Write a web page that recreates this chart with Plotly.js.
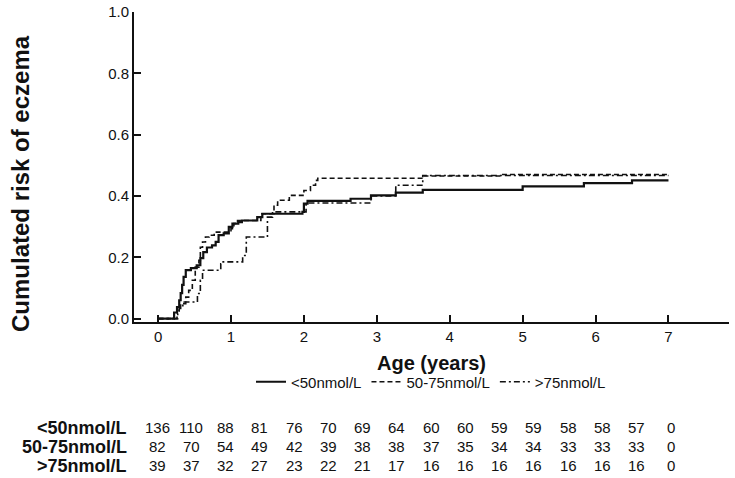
<!DOCTYPE html>
<html>
<head>
<meta charset="utf-8">
<script src="https://cdn.plot.ly/plotly-3.0.1.min.js"></script>
<style>html,body{margin:0;padding:0;background:#fff;}#chart{width:735px;height:478px;}</style>
</head>
<body>
<div id="chart"></div>
<script>
// ---- data ----
var groupNames = ["<50nmol/L", "50-75nmol/L", ">75nmol/L"];

var tLow  = [0, 0.21, 0.22, 0.26, 0.29, 0.31, 0.33, 0.35, 0.38, 0.45, 0.53, 0.58, 0.62, 0.67, 0.74, 0.79, 0.83, 0.90, 0.97, 1.02, 1.10, 1.15, 1.36, 1.43, 1.98, 2.00, 2.05, 2.64, 2.92, 3.26, 3.63, 5.00, 5.84, 6.50, 7.00];
var rLow  = [0, 0, 0.020, 0.038, 0.060, 0.083, 0.110, 0.136, 0.158, 0.165, 0.174, 0.197, 0.217, 0.232, 0.239, 0.250, 0.272, 0.278, 0.299, 0.310, 0.315, 0.320, 0.331, 0.342, 0.348, 0.375, 0.384, 0.391, 0.402, 0.411, 0.420, 0.431, 0.442, 0.451, 0.451];

var tMid  = [0, 0.24, 0.26, 0.31, 0.38, 0.42, 0.47, 0.51, 0.56, 0.58, 0.61, 0.65, 0.70, 0.77, 1.00, 1.04, 1.09, 1.41, 1.59, 1.64, 1.80, 2.00, 2.09, 2.16, 2.19, 3.63, 4.70, 7.00];
var rMid  = [0, 0, 0.027, 0.049, 0.070, 0.092, 0.125, 0.168, 0.190, 0.233, 0.250, 0.266, 0.272, 0.282, 0.293, 0.310, 0.320, 0.342, 0.370, 0.386, 0.402, 0.418, 0.435, 0.451, 0.458, 0.465, 0.470, 0.470];

var tHigh = [0, 0.26, 0.27, 0.29, 0.34, 0.54, 0.58, 0.61, 0.86, 0.88, 1.16, 1.21, 1.50, 1.57, 2.03, 2.92, 3.26, 3.63, 7.00];
var rHigh = [0, 0, 0.016, 0.038, 0.054, 0.082, 0.125, 0.158, 0.179, 0.185, 0.206, 0.266, 0.331, 0.348, 0.377, 0.400, 0.435, 0.467, 0.467];

var xTicks = [0, 1, 2, 3, 4, 5, 6, 7];
var yTicks = [0, 0.2, 0.4, 0.6, 0.8, 1.0];

var atRiskLow  = [136, 110, 88, 81, 76, 70, 69, 64, 60, 60, 59, 59, 58, 58, 57, 0];
var atRiskMid  = [82, 70, 54, 49, 42, 39, 38, 38, 37, 35, 34, 34, 33, 33, 33, 0];
var atRiskHigh = [39, 37, 32, 27, 23, 22, 21, 17, 16, 16, 16, 16, 16, 16, 16, 0];

// ---- layout helpers ----
var W = 735, H = 478;
var plotL = 134, plotR = 729, plotT = 12, plotB = 322;
var pw = plotR - plotL, ph = plotB - plotT;
function px2x(px) { return (px - plotL) / pw; }
function py2y(py) { return (plotB - py) / ph; }

var FONT = "Liberation Sans, Arial, Helvetica, sans-serif";
var INK = "#111";

var traces = [
  {x: tLow, y: rLow, name: groupNames[0], mode: "lines", line: {shape: "hv", color: INK, width: 2.2, dash: "solid"}},
  {x: tMid, y: rMid, name: groupNames[1], mode: "lines", line: {shape: "hv", color: INK, width: 1.6, dash: "5px,3px"}},
  {x: tHigh, y: rHigh, name: groupNames[2], mode: "lines", line: {shape: "hv", color: INK, width: 1.6, dash: "6px,3px,2px,3px"}}
];

var annotations = [];
annotations.push({
  text: "<b>Cumulated risk of eczema</b>", textangle: -90, showarrow: false,
  xref: "paper", yref: "paper", x: px2x(20), y: py2y(184), xanchor: "center", yanchor: "middle",
  font: {family: FONT, size: 24, color: INK}
});

var rows = [atRiskLow, atRiskMid, atRiskHigh];
var rowY = [427.5, 446.5, 465.5];
var colX0 = 157, colStep = 34.27;
rows.forEach(function (vals, r) {
  annotations.push({
    text: "<b>" + groupNames[r].replace("<", "&lt;").replace(">", "&gt;") + "</b>", showarrow: false,
    xref: "paper", yref: "paper", x: px2x(128), y: py2y(rowY[r]), xanchor: "right", yanchor: "middle",
    font: {family: FONT, size: 18, color: INK}, borderpad: 0
  });
  vals.forEach(function (v, i) {
    annotations.push({
      text: String(v), showarrow: false,
      xref: "paper", yref: "paper", x: px2x(colX0 + i * colStep), y: py2y(rowY[r]), xanchor: "center", yanchor: "middle",
      font: {family: FONT, size: 15, color: INK}, borderpad: 0
    });
  });
});

var layout = {
  width: W, height: H,
  margin: {l: plotL, r: W - plotR, t: plotT, b: H - plotB, pad: 0},
  paper_bgcolor: "#fff", plot_bgcolor: "#fff",
  font: {family: FONT, color: INK, size: 15},
  showlegend: true,
  legend: {orientation: "h", x: px2x(431), xanchor: "center", y: py2y(382), yanchor: "middle",
           font: {family: FONT, size: 15, color: INK}, itemwidth: 30, bgcolor: "rgba(0,0,0,0)"},
  xaxis: {
    range: [-0.33, 7.83], tickvals: xTicks, ticktext: xTicks.map(String),
    ticks: "inside", ticklen: 7, tickwidth: 2, tickcolor: INK,
    showline: true, linecolor: INK, linewidth: 2, showgrid: false, zeroline: false,
    tickfont: {family: FONT, size: 15, color: INK},
    title: {text: "<b>Age (years)</b>", font: {family: FONT, size: 20, color: INK}, standoff: 12}
  },
  yaxis: {
    range: [-0.011, 1.0], tickvals: yTicks, ticktext: yTicks.map(function (v) { return v.toFixed(1); }),
    ticks: "inside", ticklen: 7, tickwidth: 2, tickcolor: INK,
    showline: true, linecolor: INK, linewidth: 2, showgrid: false, zeroline: false,
    tickfont: {family: FONT, size: 15, color: INK}
  },
  annotations: annotations
};

Plotly.newPlot("chart", traces, layout, {displayModeBar: false, staticPlot: true});
</script>
</body>
</html>
